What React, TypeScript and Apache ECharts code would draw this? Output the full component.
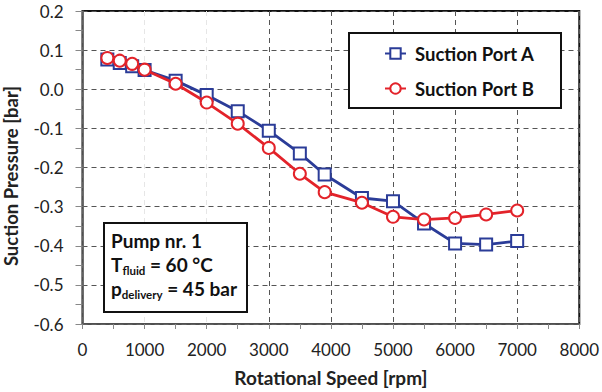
import React, { useEffect, useRef } from "react";
import * as echarts from "echarts";

const speedA = [400, 600, 800, 1000, 1500, 2000, 2500, 3000, 3500, 3900, 4500, 5000, 5500, 6000, 6500, 7000];
const pressureA = [0.076, 0.067, 0.059, 0.049, 0.022, -0.015, -0.056, -0.106, -0.164, -0.218, -0.278, -0.286, -0.343, -0.394, -0.397, -0.388];
const speedB = [400, 600, 800, 1000, 1500, 2000, 2500, 3000, 3500, 3900, 4500, 5000, 5500, 6000, 6500, 7000];
const pressureB = [0.080, 0.073, 0.065, 0.050, 0.014, -0.034, -0.088, -0.150, -0.216, -0.263, -0.290, -0.326, -0.333, -0.329, -0.320, -0.310];
const seriesNames = ["Suction Port A", "Suction Port B"];
const xTitle = "Rotational Speed [rpm]";
const yTitle = "Suction Pressure [bar]";
const annotationLines = ["Pump nr. 1", "T{sub|fluid} = 60 °C", "p{sub|delivery} = 45 bar"];

const BLUE = "#2B3C98";
const RED = "#E3232A";
const FONT = "Lato, 'Open Sans', sans-serif";

export default function App() {
  const ref = useRef<HTMLDivElement>(null);
  useEffect(() => {
    if (!ref.current) return;
    const chart = echarts.init(ref.current, null, { renderer: "svg" });
    const gridLeft = 82.5, gridTop = 11, gridRight = 21, gridBottom = 66;
    const vColors = ["#555", "#e6e6e6", "#e6e6e6", "#555", "#555", "#555", "#555", "#555", "#555"];
    chart.setOption({
      animation: false,
      backgroundColor: "#fff",
      textStyle: { fontFamily: FONT },
      grid: {
        left: gridLeft, top: gridTop, right: gridRight, bottom: gridBottom,
        show: true, borderColor: "#111", borderWidth: 2, backgroundColor: "transparent",
      },
      legend: {
        orient: "vertical",
        left: 379, top: 39,
        itemGap: 16,
        itemWidth: 21, itemHeight: 13,
        z: 10,
        textStyle: { fontFamily: FONT, fontSize: 18.5, fontWeight: "bold", color: "#111", padding: [0, 0, 0, 4] },
        data: seriesNames,
      },
      xAxis: {
        type: "value",
        min: 0, max: 8000, interval: 1000,
        name: xTitle,
        nameLocation: "middle",
        nameGap: 44,
        nameTextStyle: { fontFamily: FONT, fontSize: 19, fontWeight: "bold", color: "#222" },
        axisLine: { show: true, onZero: false, lineStyle: { color: "#666", width: 1.5 } },
        axisTick: { show: true, length: 5, lineStyle: { color: "#888" } },
        minorTick: { show: true, splitNumber: 2, length: 5, lineStyle: { color: "#888" } },
        axisLabel: { fontFamily: FONT, fontSize: 17, color: "#222", margin: 17, formatter: (v: number) => String(v) },
        splitLine: { show: true, lineStyle: { color: vColors, type: [5, 4], width: 1 } },
      },
      yAxis: {
        type: "value",
        min: -0.6, max: 0.2, interval: 0.1,
        axisLine: { show: true, onZero: false, lineStyle: { color: "#666", width: 1.5 } },
        axisTick: { show: true, length: 7, lineStyle: { color: "#888" } },
        minorTick: { show: true, splitNumber: 2, length: 7, lineStyle: { color: "#888" } },
        axisLabel: {
          fontFamily: FONT, fontSize: 17, color: "#222", margin: 19,
          formatter: (v: number) => v.toFixed(1),
        },
        splitLine: { show: true, lineStyle: { color: "#555", type: [5, 4], width: 1 } },
      },
      graphic: [
        {
          type: "text",
          x: 10.5, y: 176,
          rotation: Math.PI / 2,
          style: {
            text: yTitle,
            fontFamily: FONT, fontSize: 18.5, fontWeight: "bold", fill: "#222",
            align: "center", verticalAlign: "middle",
          },
        },
        {
          type: "rect",
          shape: { x: 349, y: 33, width: 212, height: 75 },
          style: { fill: "#fff", stroke: "#111", lineWidth: 2 },
          z: 5,
        },
        {
          type: "rect",
          shape: { x: 104, y: 223, width: 143, height: 89 },
          style: { fill: "#fff", stroke: "#111", lineWidth: 2 },
          z: 5,
        },
        {
          type: "text",
          x: 111, y: 228,
          z: 6,
          style: {
            text: annotationLines.join("\n"),
            fontFamily: FONT, fontSize: 19, fontWeight: "bold", fill: "#111",
            lineHeight: 24,
            rich: {
              sub: { fontFamily: FONT, fontSize: 11.5, fontWeight: "bold", fill: "#111", verticalAlign: "bottom", padding: [8, 0, 0, 0] },
            },
          },
        },
      ],
      series: [
        {
          name: seriesNames[0],
          type: "line",
          data: speedA.map((x, i) => [x, pressureA[i]]),
          symbol: "rect",
          symbolSize: 12,
          lineStyle: { color: BLUE, width: 2.8 },
          itemStyle: { color: "#fff", borderColor: BLUE, borderWidth: 2 },
          z: 3,
        },
        {
          name: seriesNames[1],
          type: "line",
          data: speedB.map((x, i) => [x, pressureB[i]]),
          symbol: "circle",
          symbolSize: 12,
          lineStyle: { color: RED, width: 2.8 },
          itemStyle: { color: "#fff", borderColor: RED, borderWidth: 2 },
          z: 4,
        },
      ],
    });
    return () => chart.dispose();
  }, []);
  return <div ref={ref} style={{ width: 602, height: 392, position: "absolute", left: 0, top: 0 }} />;
}
